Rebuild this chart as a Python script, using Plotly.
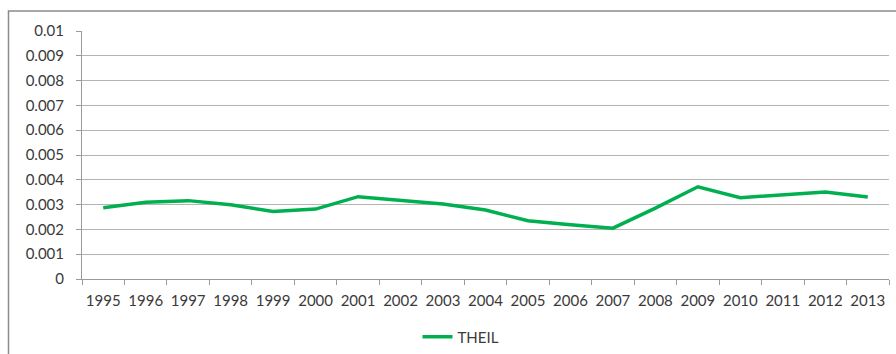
import plotly.graph_objects as go

# Theil index by year
years = [str(y) for y in range(1995, 2014)]
theil = [0.00287, 0.00309, 0.00316, 0.00299, 0.00272, 0.00282, 0.00332, 0.00318,
         0.00302, 0.00278, 0.00235, 0.00219, 0.00205, 0.00286, 0.00372, 0.00328,
         0.00339, 0.00351, 0.00331]
series_name = "THEIL"

y_ticks = [0, 0.001, 0.002, 0.003, 0.004, 0.005, 0.006, 0.007, 0.008, 0.009, 0.01]
y_labels = ["0", "0.001", "0.002", "0.003", "0.004", "0.005", "0.006", "0.007",
            "0.008", "0.009", "0.01"]

W, H = 896, 354
L, R, T, B = 82, 7, 31, 75
pw, ph = W - L - R, H - T - B

def px_x(p):
    return (p - L) / pw

def px_y(p):
    return (H - B - p) / ph

font = dict(family="Lato, Open Sans, sans-serif", size=15, color="#3a3a3a")

fig = go.Figure()
fig.add_trace(go.Scatter(
    x=years, y=theil, mode="lines", name=series_name,
    line=dict(color="#00B050", width=3.5),
))

fig.update_layout(
    width=W, height=H,
    margin=dict(l=L, r=R, t=T, b=B, pad=0, autoexpand=False),
    paper_bgcolor="white", plot_bgcolor="white",
    font=font,
    showlegend=True,
    legend=dict(orientation="h", x=px_x(461), xanchor="center",
                y=px_y(337), yanchor="middle", font=font,
                bgcolor="rgba(0,0,0,0)"),
    xaxis=dict(
        type="category", range=[-0.5, len(years) - 0.5],
        showgrid=False, showline=True, linecolor="#9a9a9a", linewidth=1,
        ticks="outside", ticklen=5, tickcolor="#9a9a9a", tickson="boundaries",
        tickangle=0, ticklabelstandoff=8, tickfont=font,
    ),
    yaxis=dict(
        range=[0, 0.01], tickvals=y_ticks, ticktext=y_labels,
        showgrid=True, gridcolor="#b4b4b4", gridwidth=1,
        showline=True, linecolor="#9a9a9a", linewidth=1,
        ticks="outside", ticklen=5, tickcolor="#9a9a9a",
        ticklabelstandoff=9, tickfont=font, zeroline=False,
    ),
    shapes=[dict(
        type="rect", xref="paper", yref="paper",
        x0=px_x(8.5), x1=px_x(W + 10), y0=px_y(H + 10), y1=px_y(11),
        line=dict(color="#8c8c8c", width=1.5), layer="below",
    )],
)

fig.write_html("out.html")
